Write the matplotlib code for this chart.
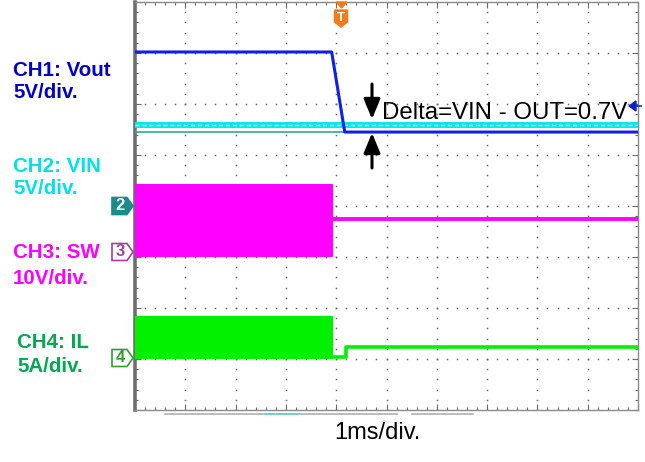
import numpy as np
import matplotlib
matplotlib.use("Agg")
import matplotlib.pyplot as plt
from matplotlib.patches import Polygon

# ---------------- data (screen divisions: x 0..10, y -4..4) ----------------
ch1_t = [0.0, 3.91, 4.17, 10.0]
ch1_v = [3.02, 3.02, 1.45, 1.45]

ch2_t = [0.0, 10.0]
ch2_v = [1.59, 1.59]
cursor_v = 1.46

ch3_band_t = [0.0, 3.92]
ch3_band_top = [0.41, 0.41]
ch3_band_bot = [-0.99, -0.99]
ch3_t = [3.92, 10.0]
ch3_v = [-0.26, -0.26]

ch4_band_t = [0.0, 3.92]
ch4_band_top = [-2.18, -2.18]
ch4_band_bot = [-2.98, -2.98]
ch4_t = [3.92, 4.19, 4.19, 10.0]
ch4_v = [-2.96, -2.96, -2.77, -2.77]

labels = [("CH1: Vout", "5V/div.", "#0000c8", 13, 70, 93),
          ("CH2: VIN", "5V/div.", "#00e0e8", 13, 167, 188),
          ("CH3: SW", "10V/div.", "#ff00ff", 13, 253, 279),
          ("CH4: IL", "5A/div.", "#00a850", 17, 342, 366)]

W, H = 645, 462
fig = plt.figure(figsize=(W / 100, H / 100), dpi=100)
fig.patch.set_facecolor("white")

L, R, T, B = 135, 638, 2, 410
ax = fig.add_axes([L / W, 1 - B / H, (R - L) / W, (B - T) / H])
ax.set_xlim(0, 10)
ax.set_ylim(-4, 4)
ax.set_facecolor("white")


def fx(px):
    return px / W


def fy(py):
    return 1 - py / H


# grid dots
dot_c = "#6a6a6a"
minor = np.arange(0, 10.001, 0.2)
minor_y = np.arange(-4, 4.001, 0.2)
for yy in range(-3, 4):
    ax.plot(minor, np.full_like(minor, yy), ls="none", marker="s", ms=1.1,
            mew=0, color=dot_c, zorder=1)
for xx in range(1, 10):
    ax.plot(np.full_like(minor_y, xx), minor_y, ls="none", marker="s", ms=1.1,
            mew=0, color=dot_c, zorder=1)

# spines and ticks
for s in ax.spines.values():
    s.set_color("#8a8a8a")
    s.set_linewidth(1.0)
ax.spines["left"].set_linewidth(2.6)
ax.spines["left"].set_color("#6e6e6e")
ax.spines["right"].set_linestyle((0, (1, 1)))
ax.set_xticks(np.arange(0, 10.01, 1))
ax.set_yticks(np.arange(-4, 4.01, 1))
ax.set_xticks(minor, minor=True)
ax.set_yticks(minor_y, minor=True)
ax.tick_params(which="both", direction="in", top=True, right=True,
               labelbottom=False, labelleft=False, color="#6a6a6a", width=0.8)
ax.tick_params(which="major", length=4)
ax.tick_params(which="minor", length=2)

# traces
ax.fill_between(ch3_band_t, ch3_band_bot, ch3_band_top, color="#ff00ff",
                lw=1.5, edgecolor="#ff00ff", zorder=3)
ax.plot(ch3_t, ch3_v, color="#ff00ff", lw=2.8, zorder=3)
ax.fill_between(ch4_band_t, ch4_band_bot, ch4_band_top, color="#00f000",
                lw=1.5, edgecolor="#00f000", zorder=3)
ax.plot(ch4_t, ch4_v, color="#00f000", lw=2.6, zorder=3)

ax.plot(ch2_t, [cursor_v, cursor_v], color="#2aa8a8", lw=1.2, zorder=3)
ax.plot(ch2_t, ch2_v, color="#10e4e4", lw=4.3, zorder=4)
ax.plot(ch2_t, ch2_v, color="#9ffcfc", lw=1.0, ls=(0, (3, 2)), zorder=4)
ax.plot(ch1_t, ch1_v, color="#1020e8", lw=2.2, zorder=5)

# below-screen record bars
ax.plot([(165 - L) / 50.3, (397 - L) / 50.3], [-4.07, -4.07], color="#b0b0b0",
        lw=1.2, clip_on=False)
ax.plot([(412 - L) / 50.3, (473 - L) / 50.3], [-4.07, -4.07], color="#b0b0b0",
        lw=1.2, clip_on=False)
ax.plot([(265 - L) / 50.3, (297 - L) / 50.3], [-4.07, -4.07], color="#70d0d0",
        lw=1.4, clip_on=False)

# channel ground markers (left)


def marker(py, face, edge, txt, tcolor):
    x0, x1, x2 = 112, 127, 133
    h = 8.5
    pts = [(fx(x0), fy(py - h)), (fx(x1), fy(py - h)), (fx(x2), fy(py)),
           (fx(x1), fy(py + h)), (fx(x0), fy(py + h))]
    fig.patches.append(Polygon(pts, closed=True, transform=fig.transFigure,
                               facecolor=face, edgecolor=edge, lw=1.2))
    fig.text(fx(120), fy(py), txt, color=tcolor, fontsize=12, ha="center",
             va="center", fontweight="bold", family="Liberation Sans")


marker(206, "#1a8c8c", "#1a8c8c", "2", "white")
marker(252, "white", "#a040a0", "3", "#a040a0")
marker(358, "white", "#30a030", "4", "#30a030")

# trigger marker
orange = "#f47a1a"
fig.patches.append(Polygon([(fx(336), fy(2)), (fx(347), fy(2)), (fx(341.5), fy(8))],
                           closed=True, transform=fig.transFigure, facecolor=orange,
                           edgecolor=orange))
fig.patches.append(Polygon([(fx(334.5), fy(10)), (fx(347.5), fy(10)), (fx(347.5), fy(22)),
                            (fx(341), fy(27)), (fx(334.5), fy(22))],
                           closed=True, transform=fig.transFigure, facecolor=orange,
                           edgecolor=orange))
fig.text(fx(341), fy(18), "T", color="white", fontsize=9.5, fontweight="bold",
         ha="center", va="center", family="Liberation Sans")

# small blue reference arrow at right
fig.patches.append(Polygon([(fx(629), fy(106)), (fx(636), fy(101)), (fx(636), fy(111))],
                           closed=True, transform=fig.transFigure,
                           facecolor="#1020c8", edgecolor="#1020c8"))
fig.lines.append(plt.Line2D([fx(634), fx(641)], [fy(106), fy(106)],
                            transform=fig.transFigure, color="#1020c8", lw=1.2))

# delta arrows
arrow_kw = dict(arrowstyle="-|>,head_length=0.6,head_width=0.25", color="black",
                lw=2.2, mutation_scale=20, shrinkA=0, shrinkB=0)
fig.add_artist(matplotlib.patches.FancyArrowPatch((fx(372), fy(84)), (fx(372), fy(119)),
                                                   transform=fig.transFigure, **arrow_kw))
fig.add_artist(matplotlib.patches.FancyArrowPatch((fx(372), fy(168)), (fx(372), fy(133)),
                                                   transform=fig.transFigure, **arrow_kw))

fig.text(fx(382), fy(113), "Delta=VIN - OUT=0.7V", fontsize=17.3, color="black",
         ha="left", va="center", family="Liberation Sans")

# channel labels
for l1, l2, c, x, y1, y2 in labels:
    fig.text(fx(x), fy(y1), l1, color=c, fontsize=14.8, fontweight="bold",
             ha="left", va="center", family="Liberation Sans")
    fig.text(fx(x), fy(y2), l2, color=c, fontsize=14.8, fontweight="bold",
             ha="left", va="center", family="Liberation Sans")

fig.text(fx(377), fy(433), "1ms/div.", fontsize=17, color="black",
         ha="center", va="center", family="Liberation Sans")

fig.savefig("out.png", dpi=100, facecolor="white")
